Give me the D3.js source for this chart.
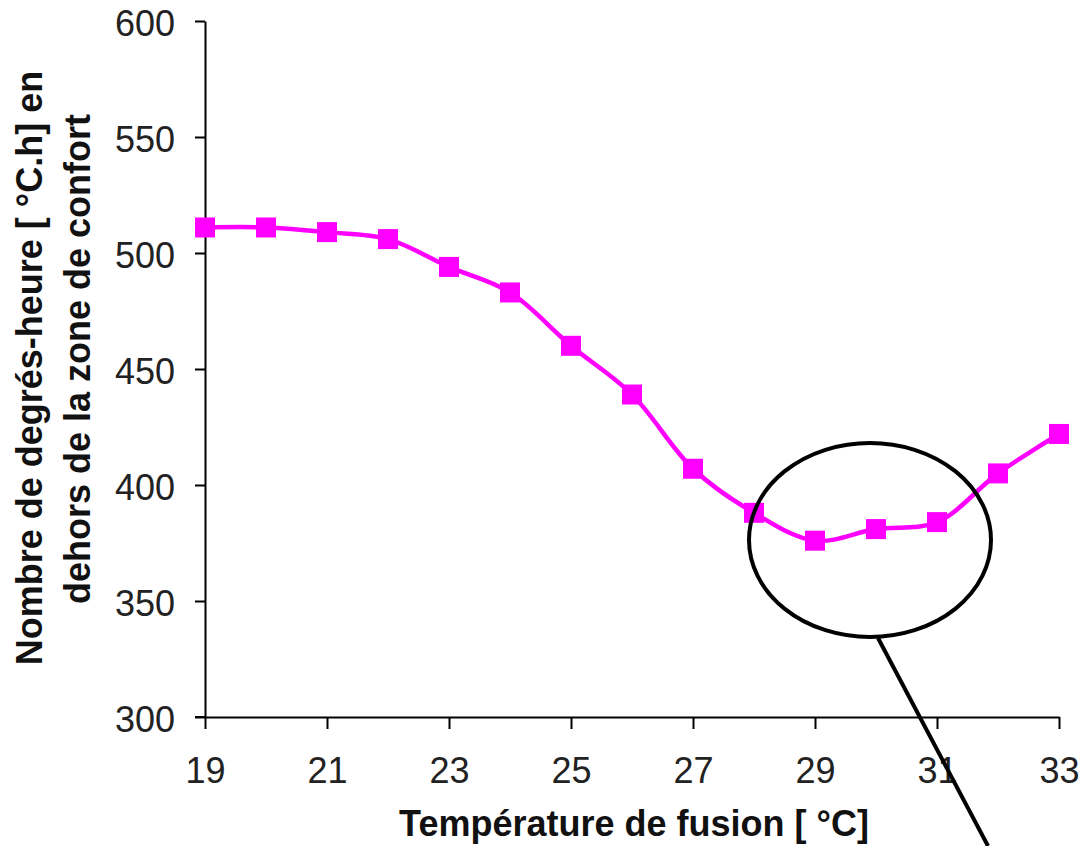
<!DOCTYPE html>
<html><head><meta charset="utf-8">
<script src="https://d3js.org/d3.v7.min.js"></script>
<style>body{margin:0;background:#fff}svg{display:block}</style>
</head><body>
<svg id="c" width="1081" height="846"></svg>
<script>
const temps = [19,20,21,22,23,24,25,26,27,28,29,30,31,32,33];
const degreeHours = [511,511,509,506,494,483,460,439,407,388,376,381,384,405,422];
const xTicks = [19,21,23,25,27,29,31,33];
const yTicks = [300,350,400,450,500,550,600];
const xTitle = "Température de fusion [ °C]";
const yTitle = ["Nombre de degrés-heure [ °C.h] en", "dehors de la zone de confort"];

const svg = d3.select("#c");
const m = {l:205, r:1059, t:21, b:717};
const x = d3.scaleLinear().domain([19,33]).range([m.l, m.r]);
const y = d3.scaleLinear().domain([300,600]).range([m.b, m.t]);
const font = "'Liberation Sans', Arial, sans-serif";

const ya = svg.append("g").attr("transform",`translate(${m.l},0)`)
  .call(d3.axisLeft(y).tickValues(yTicks).tickSize(10).tickPadding(20).tickSizeOuter(0));
const xa = svg.append("g").attr("transform",`translate(0,${m.b})`)
  .call(d3.axisBottom(x).tickValues(xTicks).tickSize(12).tickPadding(28).tickSizeOuter(0));
[ya,xa].forEach(a=>{
  a.selectAll("path,line").attr("stroke","#000").attr("stroke-width",2);
  a.selectAll("text").attr("font-family",font).attr("font-size",36).attr("fill","#222");
});
ya.selectAll("text").attr("dy","0.4em");
// extend x axis slightly left of y axis
svg.append("line").attr("x1",m.l-10).attr("x2",m.l).attr("y1",m.b).attr("y2",m.b).attr("stroke","#000").attr("stroke-width",2);

const data = temps.map((t,i)=>({t, v:degreeHours[i]}));
svg.append("path").datum(data)
  .attr("d", d3.line().x(d=>x(d.t)).y(d=>y(d.v)).curve(d3.curveCatmullRom.alpha(0.5)))
  .attr("fill","none").attr("stroke","#ff00ff").attr("stroke-width",4.5);
svg.selectAll("rect.pt").data(data).join("rect").attr("class","pt")
  .attr("x",d=>x(d.t)-10).attr("y",d=>y(d.v)-10).attr("width",20).attr("height",20)
  .attr("fill","#ff00ff");

// annotation ellipse and pointer line
svg.append("ellipse").attr("cx",870).attr("cy",540).attr("rx",121).attr("ry",97)
  .attr("fill","none").attr("stroke","#000").attr("stroke-width",4);
svg.append("line").attr("x1",878).attr("y1",638).attr("x2",988).attr("y2",846)
  .attr("stroke","#000").attr("stroke-width",4);

svg.append("text").attr("transform",`translate(634,836)`).attr("text-anchor","middle")
  .attr("font-family",font).attr("font-size",36).attr("font-weight","bold").attr("fill","#111")
  .text(xTitle);
const yCenters = [[42,368],[90,359]];
yTitle.forEach((s,i)=>{
  svg.append("text").attr("transform",`translate(${yCenters[i][0]},${yCenters[i][1]}) rotate(-90)`)
    .attr("text-anchor","middle").attr("font-family",font).attr("font-size",36)
    .attr("font-weight","bold").attr("fill","#111").text(s);
});
</script>
</body></html>
